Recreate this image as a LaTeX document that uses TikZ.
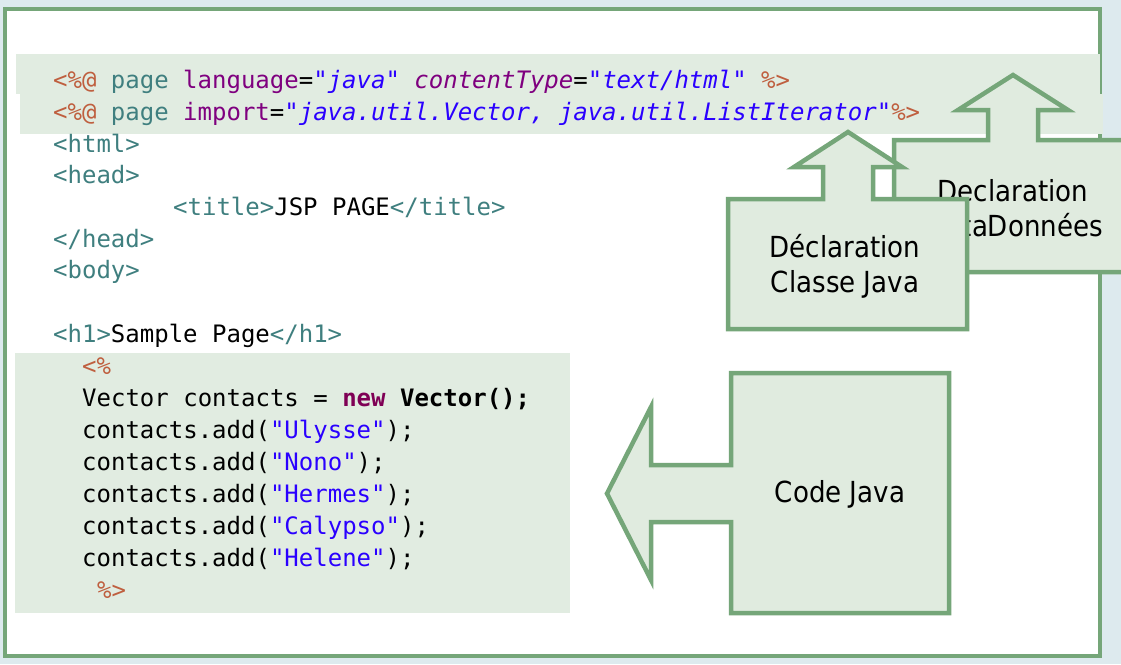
\documentclass[tikz,border=0pt]{standalone}
\usepackage{fontspec}
\setmonofont{DejaVu Sans Mono}
\IfFontExistsTF{DejaVu Sans Condensed}{%
  \newfontfamily\calloutfont{DejaVu Sans Condensed}%
  \def\calloutsize{\fontsize{29}{35}\selectfont}}{%
  \newfontfamily\calloutfont{DejaVu Sans}%
  \def\calloutsize{\fontsize{26}{35}\selectfont}}
\definecolor{bgblue}{RGB}{221,234,238}
\definecolor{cgreen}{RGB}{117,166,121}
\definecolor{cfill}{RGB}{224,235,223}
\definecolor{bandfill}{RGB}{225,236,225}
\definecolor{delc}{RGB}{191,95,63}
\definecolor{tagc}{RGB}{63,127,127}
\definecolor{attc}{RGB}{127,0,127}
\definecolor{strc}{RGB}{42,0,255}
\definecolor{kwc}{RGB}{127,0,85}
\newcommand\cDel[1]{{\color{delc}#1}}
\newcommand\cTag[1]{{\color{tagc}#1}}
\newcommand\cAtt[1]{{\color{attc}#1}}
\newcommand\cStr[1]{{\color{strc}#1}}
\tikzset{
  codeline/.style={anchor=base west, inner sep=0pt, font=\ttfamily\fontsize{24}{32}\selectfont},
  callout/.style={draw=cgreen, fill=cfill, line width=4.5pt, line join=miter},
  callouttext/.style={align=center, inner sep=0pt, font=\calloutfont\calloutsize},
  band/.style={fill=bandfill, draw=none}
}
\begin{document}
\begin{tikzpicture}[x=1pt,y=-1pt]
\useasboundingbox (0,0) rectangle (1121,664);
\fill[bgblue] (0,0) rectangle (1121,664);
% page frame
\draw[cgreen, line width=4pt, fill=white] (5,9) rectangle (1100,656);
% highlighted bands
\path[band] (16,54) rectangle (1100,94);
\path[band] (20,94) rectangle (1103,134);
\path[band] (15,353) rectangle (570,613);
% code
\node[codeline] (l1) at (53,88) {\cDel{<\%@} \cTag{page} \cAtt{language}=\cStr{\itshape"java"} \cAtt{\itshape contentType}=\cStr{\itshape"text/html"} \cDel{\%>}};
\node[codeline] (l2) at (53,120) {\cDel{<\%@} \cTag{page} \cAtt{import}=\cStr{\itshape"java.util.Vector, java.util.ListIterator"}\cDel{\%>}};
\node[codeline] (l3) at (53,152) {\cTag{<html>}};
\node[codeline] (l4) at (53,183) {\cTag{<head>}};
\node[codeline] (l5) at (173,215) {\cTag{<title>}JSP PAGE\cTag{</title>}};
\node[codeline] (l6) at (53,247) {\cTag{</head>}};
\node[codeline] (l7) at (53,278) {\cTag{<body>}};
\node[codeline] (l8) at (53,342) {\cTag{<h1>}Sample Page\cTag{</h1>}};
\node[codeline] (j1) at (82,374) {\cDel{<\%}};
\node[codeline] (j2) at (82,406) {Vector contacts = {\bfseries\color{kwc}new} {\bfseries Vector();}};
\node[codeline] (j3) at (82,438) {contacts.add(\cStr{"Ulysse"});};
\node[codeline] (j4) at (82,470) {contacts.add(\cStr{"Nono"});};
\node[codeline] (j5) at (82,502) {contacts.add(\cStr{"Hermes"});};
\node[codeline] (j6) at (82,534) {contacts.add(\cStr{"Calypso"});};
\node[codeline] (j7) at (82,566) {contacts.add(\cStr{"Helene"});};
\node[codeline] (j8) at (97,598) {\cDel{\%>}};
% callout: Declaration MetaDonnees (behind)
\draw[callout] (894,272) -- (894,140) -- (988,140) -- (988,110) -- (958,110) -- (1013,75)
  -- (1068,110) -- (1038,110) -- (1038,140) -- (1135,140) -- (1135,272) -- cycle;
\node[callouttext] (meta) at (1013,208) {Declaration\\MetaDonnées};
% callout: Declaration Classe Java
\draw[callout] (728,329) -- (728,199) -- (823,199) -- (823,167) -- (794,167) -- (848,132)
  -- (902,167) -- (873,167) -- (873,199) -- (967,199) -- (967,329) -- cycle;
\node[callouttext] (classe) at (845,266) {Déclaration\\Classe Java};
% callout: Code Java
\draw[callout] (949,373) -- (731,373) -- (731,465) -- (651,465) -- (651,407) -- (607,493.5)
  -- (651,580) -- (651,522) -- (731,522) -- (731,613) -- (949,613) -- cycle;
\node[callouttext] (code) at (840,494) {Code Java};
\end{tikzpicture}
\end{document}
